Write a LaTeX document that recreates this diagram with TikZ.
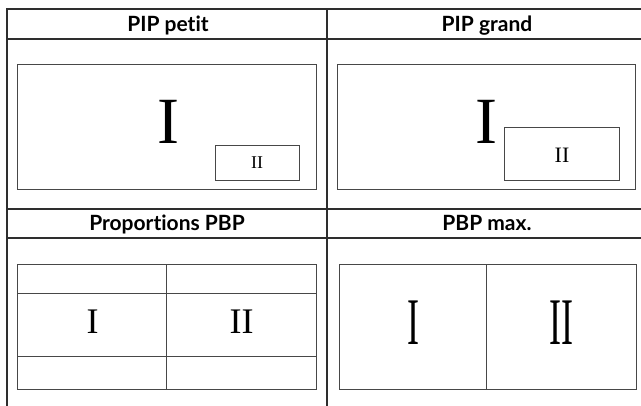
\documentclass[tikz,border=0pt]{standalone}
\usepackage{fontspec}
\setsansfont{Lato}[Ligatures={NoCommon,NoRare}]
\newfontfamily\screenfont{Liberation Serif}
\usepackage{graphicx}

\begin{document}
\begin{tikzpicture}[x=1pt, y=-1pt, line join=miter,
  tableline/.style={line width=2pt, draw=black!82},
  screen/.style={line width=1pt, draw=black!72},
  head/.style={font=\sffamily\bfseries\fontsize{21}{24}\selectfont, inner sep=0pt, anchor=base},
  bigno/.style={font=\screenfont\fontsize{66}{70}\selectfont, inner sep=0pt},
  midno/.style={font=\screenfont\fontsize{36}{40}\selectfont, inner sep=0pt},
  smallno/.style={font=\screenfont\fontsize{18}{20}\selectfont, inner sep=0pt}]

  \clip (0,0) rectangle (641,405);
  \fill[white] (0,0) rectangle (641,405);

  % table frame
  \coordinate (TL) at (7,9);
  \coordinate (TM) at (327,9);
  \draw[tableline] (7,420) -- (TL) -- (660,9);
  \draw[tableline] (TM) -- (327,420);
  \foreach \y in {39,209.3,238.3}
    \draw[tableline] (7,\y) -- (660,\y);

  % headers
  \node[head] (hpetit) at (168,31.7) {PIP petit};
  \node[head] (hgrand) at (487,31.7) {PIP grand};
  \node[head] (hprop) at (167,230.5) {Proportions PBP};
  \node[head] (hmax) at (487,230.5) {PBP max.};

  % PIP petit
  \draw[screen] (17.7,64.3) rectangle (316,189.3);
  \node[bigno] (pmain) at (168,122) {I};
  \draw[screen] (215,145) rectangle (299,180);
  \node[smallno] (psub) at (257,162.5) {II};

  % PIP grand
  \draw[screen] (337.7,64.3) rectangle (635.7,189.3);
  \node[bigno] (gmain) at (486.7,122) {I};
  \draw[screen] (504,127) rectangle (619,180);
  \node[font=\screenfont\fontsize{22}{24}\selectfont, inner sep=0pt] (gsub) at (562,155) {II};

  % Proportions PBP
  \draw[screen] (17.7,264.3) rectangle (316,389.7);
  \draw[screen] (17.7,293) -- (316,293);
  \draw[screen] (17.7,356) -- (316,356);
  \draw[screen] (166.7,264.3) -- (166.7,389.7);
  \node[midno] (rleft) at (92.7,322) {I};
  \node[midno] (rright) at (241.7,322) {II};

  % PBP max.
  \draw[screen] (339,264.3) rectangle (636.7,389.5);
  \draw[screen] (486.7,264.3) -- (486.7,389.5);
  \node[midno] (mleft) at (413,322.5) {\scalebox{1}[1.85]{I}};
  \node[midno] (mright) at (561.7,322.5) {\scalebox{1}[1.85]{I\kern-0.5pt I}};

\end{tikzpicture}
\end{document}
